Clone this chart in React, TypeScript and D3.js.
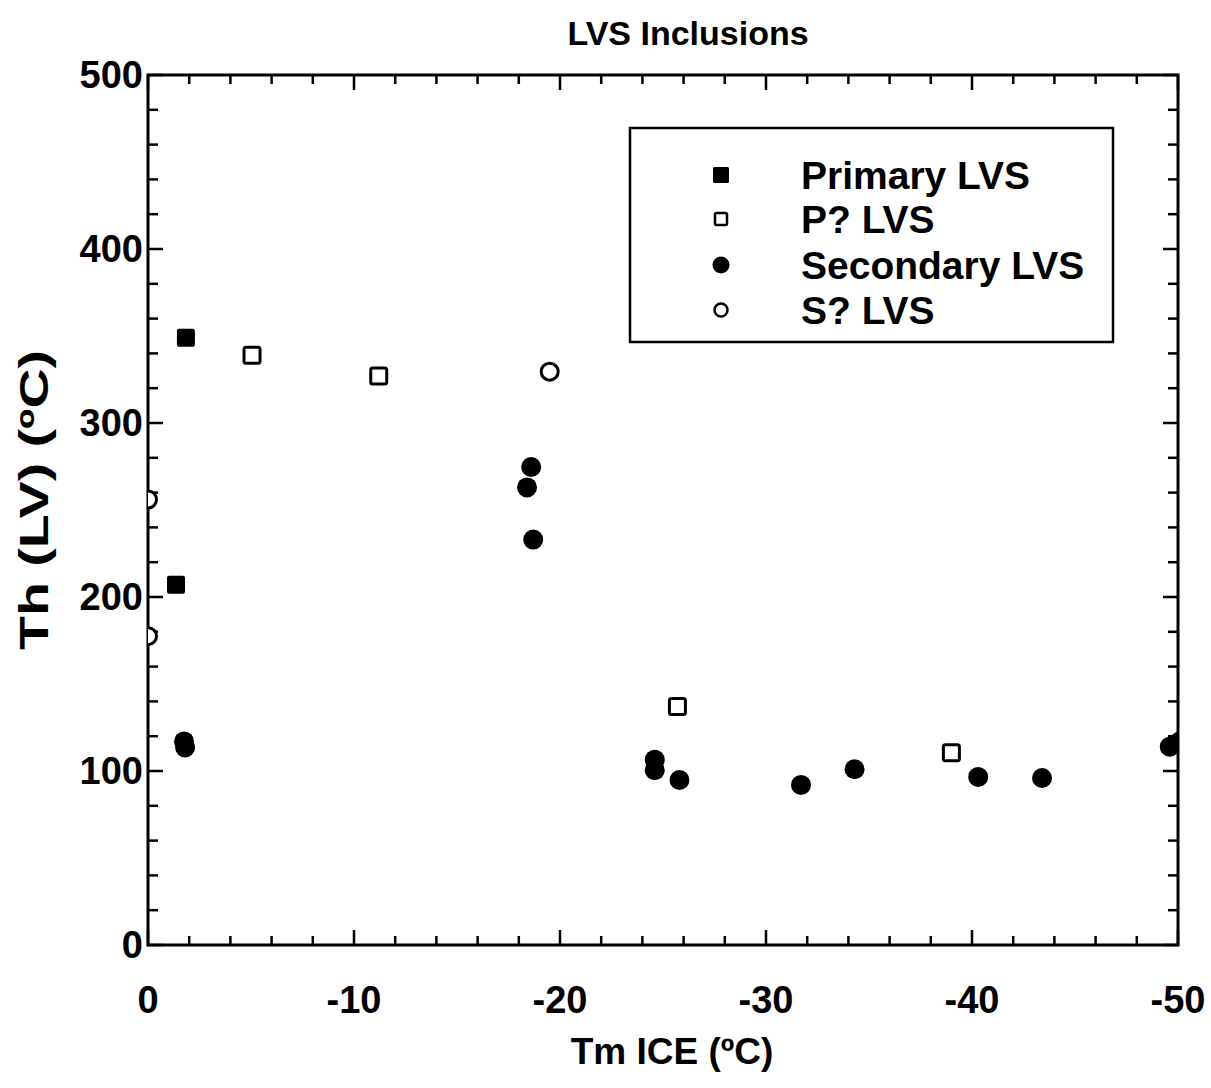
import React from "react";
import * as d3 from "d3";

const primaryX = [-1.84, -1.36];
const primaryY = [349, 207];
const pqX = [-5.05, -11.2, -25.7, -39.0];
const pqY = [339, 327, 137, 110.5];
const secondaryX = [-18.6, -18.4, -18.7, -1.75, -1.8, -24.6, -24.6, -25.8, -31.7, -34.3, -40.3, -43.4, -49.6, -50.1];
const secondaryY = [274.7, 263, 233, 117, 113.5, 106.5, 100.5, 94.8, 92, 101, 96.6, 96, 114, 117];
const sqX = [-19.5, 0, 0];
const sqY = [329.5, 256, 177.5];

const xTicks = [0, -10, -20, -30, -40, -50];
const yTicks = [0, 100, 200, 300, 400, 500];
const legendLabels = ["Primary LVS", "P? LVS", "Secondary LVS", "S? LVS"];

const W = 1211, H = 1088;
const L = 148, R = 1178, T = 75, B = 945;
const FONT = "'Liberation Sans', Arial, Helvetica, sans-serif";

export default function App() {
  const x = d3.scaleLinear().domain([0, -50]).range([L, R]);
  const y = d3.scaleLinear().domain([0, 500]).range([B, T]);
  const xMinor = d3.range(0, -50.01, -2);
  const yMinor = d3.range(0, 500.01, 20);
  const isMajX = (v: number) => Math.abs(v % 10) < 1e-6;
  const isMajY = (v: number) => Math.abs(v % 100) < 1e-6;
  const sq = 18;
  const rr = 10;
  const legRows = [175, 219, 265, 310];
  return (
    <svg width={W} height={H} style={{ display: "block", position: "absolute", left: 0, top: 0, background: "#fff" }}>
      <defs>
        <clipPath id="plotclip">
          <rect x={L} y={T} width={R - L} height={B - T} />
        </clipPath>
      </defs>
      <rect x={0} y={0} width={W} height={H} fill="#fff" />
      <text x={688} y={45} textAnchor="middle" fontFamily={FONT} fontWeight="bold" fontSize={34} fill="#000">LVS Inclusions</text>
      {xMinor.map((v, i) => {
        const len = isMajX(v) ? 15 : 9;
        return (
          <g key={"xt" + i}>
            <line x1={x(v)} x2={x(v)} y1={B} y2={B - len} stroke="#000" strokeWidth={2.5} />
            <line x1={x(v)} x2={x(v)} y1={T} y2={T + len} stroke="#000" strokeWidth={2.5} />
          </g>
        );
      })}
      {yMinor.map((v, i) => {
        const len = isMajY(v) ? 15 : 10;
        return (
          <g key={"yt" + i}>
            <line x1={L} x2={L + len} y1={y(v)} y2={y(v)} stroke="#000" strokeWidth={2.5} />
            <line x1={R} x2={R - len} y1={y(v)} y2={y(v)} stroke="#000" strokeWidth={2.5} />
          </g>
        );
      })}
      <rect x={L} y={T} width={R - L} height={B - T} fill="none" stroke="#000" strokeWidth={3} />
      {xTicks.map((v) => (
        <text key={"xl" + v} x={x(v)} y={1013} textAnchor="middle" fontFamily={FONT} fontWeight="bold" fontSize={38} fill="#000">{v}</text>
      ))}
      {yTicks.map((v) => (
        <text key={"yl" + v} x={143} y={y(v) + 13} textAnchor="end" fontFamily={FONT} fontWeight="bold" fontSize={38} fill="#000">{v}</text>
      ))}
      <text x={672} y={1064} textAnchor="middle" fontFamily={FONT} fontWeight="bold" fontSize={37} fill="#000">Tm ICE (ºC)</text>
      <text transform="translate(48,500) rotate(-90)" textAnchor="middle" fontFamily={FONT} fontWeight="bold" fontSize={40} fill="#000" textLength={300} lengthAdjust="spacingAndGlyphs">Th (LV) (ºC)</text>
      <g clipPath="url(#plotclip)">
        {primaryX.map((v, i) => (
          <rect key={"p" + i} x={x(v) - sq / 2} y={y(primaryY[i]) - sq / 2} width={sq} height={sq} rx={2} fill="#000" />
        ))}
        {pqX.map((v, i) => (
          <rect key={"pq" + i} x={x(v) - 8} y={y(pqY[i]) - 8} width={16} height={16} rx={2} fill="#fff" stroke="#000" strokeWidth={3} />
        ))}
        {secondaryX.map((v, i) => (
          <circle key={"s" + i} cx={x(v)} cy={y(secondaryY[i])} r={rr} fill="#000" />
        ))}
        {sqX.map((v, i) => (
          <circle key={"sq" + i} cx={x(v)} cy={y(sqY[i])} r={8.5} fill="#fff" stroke="#000" strokeWidth={3} />
        ))}
      </g>
      <rect x={630} y={128} width={483} height={214} fill="#fff" stroke="#000" strokeWidth={2.5} />
      <rect x={721 - 8} y={legRows[0] - 8} width={16} height={16} rx={1.5} fill="#000" />
      <rect x={721 - 6} y={legRows[1] - 6} width={12} height={12} rx={1.5} fill="#fff" stroke="#000" strokeWidth={2.5} />
      <circle cx={721} cy={legRows[2]} r={8.5} fill="#000" />
      <circle cx={721} cy={legRows[3]} r={6.5} fill="#fff" stroke="#000" strokeWidth={2.5} />
      {legendLabels.map((t, i) => (
        <text key={t} x={801} y={legRows[i] + 14} fontFamily={FONT} fontWeight="bold" fontSize={39} fill="#000">{t}</text>
      ))}
    </svg>
  );
}
